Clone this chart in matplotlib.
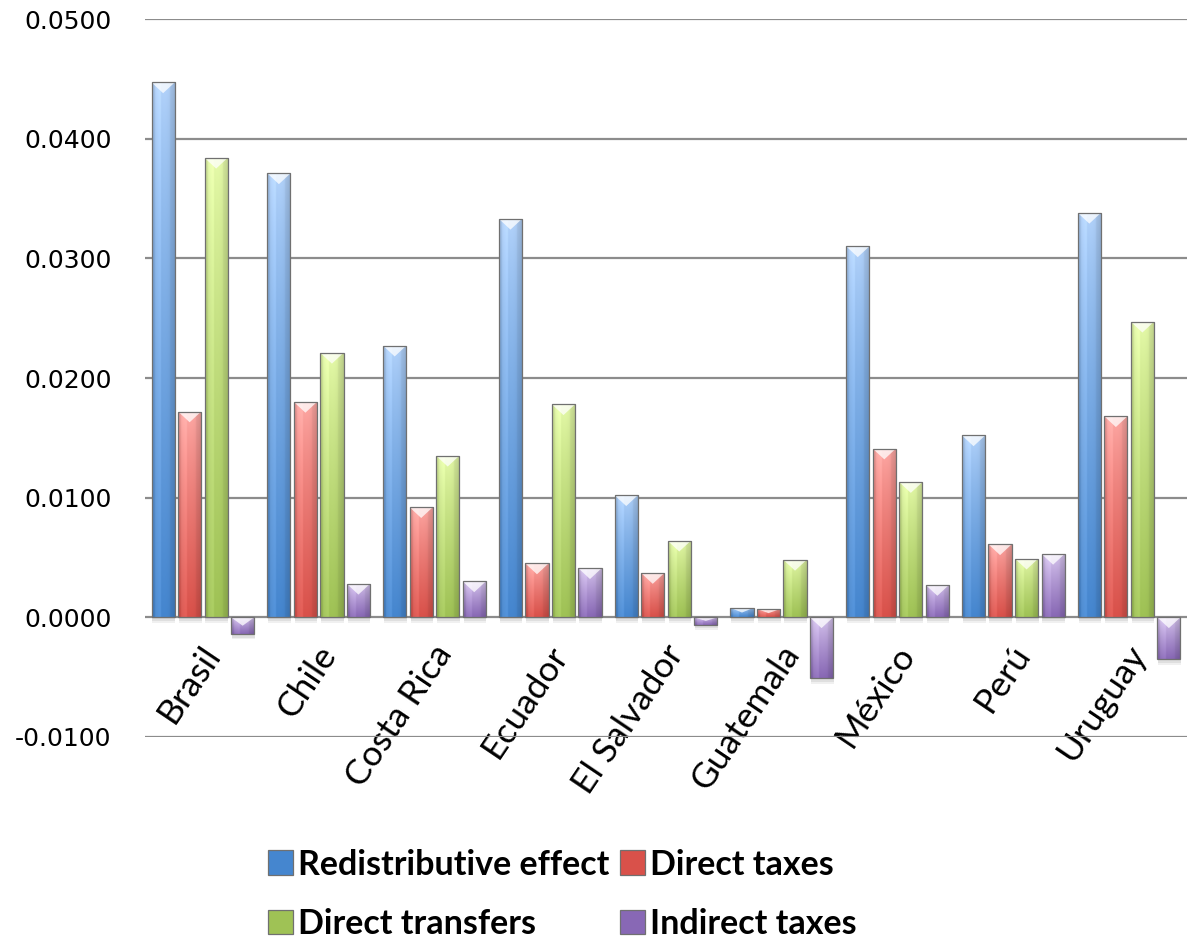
import numpy as np
import matplotlib.pyplot as plt
from matplotlib.patches import Polygon, Rectangle, Patch
from matplotlib.colors import to_rgb
from matplotlib.transforms import ScaledTranslation

countries = ['Brasil', 'Chile', 'Costa Rica', 'Ecuador', 'El Salvador',
             'Guatemala', 'México', 'Perú', 'Uruguay']
redistributive = [0.0447, 0.0371, 0.0227, 0.0333, 0.0102, 0.0008, 0.0310, 0.0152, 0.0338]
direct_taxes = [0.0172, 0.0180, 0.0092, 0.0045, 0.0037, 0.0007, 0.0141, 0.0061, 0.0168]
direct_transfers = [0.0384, 0.0221, 0.0135, 0.0178, 0.0064, 0.0048, 0.0113, 0.0049, 0.0247]
indirect_taxes = [-0.0014, 0.0028, 0.0030, 0.0041, -0.0006, -0.0051, 0.0027, 0.0053, -0.0035]

series = [
    ('Redistributive effect', redistributive, '#b3d3fb', '#4586cf'),
    ('Direct taxes', direct_taxes, '#ffaaa6', '#d9514a'),
    ('Direct transfers', direct_transfers, '#e6fbaa', '#9fc255'),
    ('Indirect taxes', indirect_taxes, '#dccbf2', '#8868b5'),
]
yticks = [-0.01, 0.0, 0.01, 0.02, 0.03, 0.04, 0.05]

fig = plt.figure(figsize=(11.95, 9.42), dpi=100)
ax = fig.add_axes([145 / 1195, 1 - 737 / 942, 1042 / 1195, 718 / 942])

x = np.arange(len(countries))
step = 0.229
width = 0.2
bevel = 0.0009  # height of the light chevron on top of each bar


def gradient(light, dark, n=64, m=16):
    lt, dk = np.array(to_rgb(light)), np.array(to_rgb(dark))
    t = np.linspace(0, 1, n)[:, None, None] ** 0.8
    img = lt * (1 - t) + dk * t
    h = np.linspace(-1, 1, m)[None, :, None]
    shade = 1 - 0.12 * np.abs(h) ** 2 - 0.05 * (h > 0.6)
    img = np.clip(img * shade + 0.06 * (h < -0.2) * (h > -0.8), 0, 1)
    return img


handles = []
for k, (name, vals, light, dark) in enumerate(series):
    pos = x + (k - 1.5) * step
    bars = ax.bar(pos, vals, width, facecolor='none', edgecolor='#707070',
                  linewidth=0.9, zorder=4)
    img = gradient(light, dark)
    for b in bars:
        x0, w = b.get_x(), b.get_width()
        x1 = x0 + w
        y0, y1 = sorted([b.get_y(), b.get_y() + b.get_height()])
        # soft shadow under the bar
        for d, a in [(0.00045, 0.06), (0.0003, 0.07)]:
            ax.add_patch(Rectangle((x0 + 0.008, y0 - d), w - 0.004, y1 - y0,
                                   facecolor='#000000', alpha=a, linewidth=0, zorder=2))
        im = ax.imshow(img, extent=(x0, x1, y0, y1), origin='upper',
                       aspect='auto', interpolation='bilinear', zorder=3)
        im.set_clip_path(b)
        hb = min(bevel, (y1 - y0) * 0.5)
        ax.add_patch(Polygon([(x0, y1), (x1, y1), (x0 + w / 2, y1 - hb)],
                             closed=True, facecolor='white', alpha=0.75,
                             linewidth=0, zorder=3.5))
    handles.append(Patch(facecolor=dark, edgecolor='#707070', linewidth=0.9, label=name))

ax.set_xlim(-0.5, len(countries) - 0.5)
ax.set_ylim(-0.01, 0.05)
ax.set_yticks(yticks)
ax.set_yticklabels([f'{v:.4f}' for v in yticks], fontsize=18, family='DejaVu Sans')
ax.yaxis.grid(True, color='#8c8c8c', linewidth=1.6, zorder=0)
ax.set_axisbelow(True)
for s in ax.spines.values():
    s.set_visible(False)
ax.spines['bottom'].set_position(('data', 0))
ax.tick_params(axis='y', length=0, pad=24)
ax.tick_params(axis='x', length=0, pad=16)

ax.set_xticks(x)
ax.set_xticklabels(countries, rotation=56, ha='right', va='top',
                   rotation_mode='anchor', fontsize=25.5, family='Lato')
for lab in ax.get_xticklabels():
    lab.set_transform(lab.get_transform() + ScaledTranslation(-0.03, 0, fig.dpi_scale_trans))

order = [0, 2, 1, 3]
fig.legend([handles[i] for i in order], [series[i][0] for i in order],
           ncol=2, loc='upper left', bbox_to_anchor=(254 / 1195, 1 - 835 / 942),
           frameon=False, prop=dict(family='Lato', weight='bold', size=24.5),
           handlelength=0.75, handleheight=0.75, handletextpad=0.15,
           columnspacing=0.3, labelspacing=0.8, borderaxespad=0)

fig.savefig('out.png', dpi=100)
